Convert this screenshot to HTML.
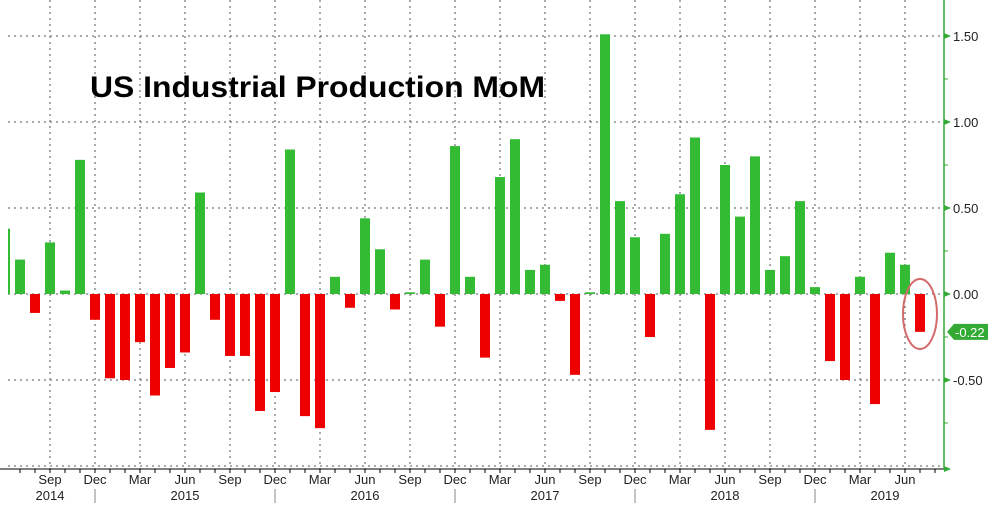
<!DOCTYPE html>
<html><head><meta charset="utf-8"><style>
body{margin:0;background:#fff;}
svg text{font-family:"Liberation Sans",Arial,sans-serif;}
</style></head><body>
<svg id="chart" width="997" height="503" xmlns="http://www.w3.org/2000/svg">
<rect width="997" height="503" fill="#fff"/>
<g id="grid"></g>
<g id="bars"></g>
<g id="axes"></g>
<text x="90" y="97" font-size="30" font-weight="bold" fill="#000" textLength="455" lengthAdjust="spacingAndGlyphs">US Industrial Production MoM</text>
<ellipse cx="920" cy="314" rx="17" ry="35" fill="none" stroke="#d46a6a" stroke-width="2"/>
</svg>
<script>
const startMonth = "2014-06";
const values = [0.38,0.20,-0.11,0.30,0.02,0.78,-0.15,-0.49,-0.50,-0.28,-0.59,-0.43,-0.34,0.59,-0.15,-0.36,-0.36,-0.68,-0.57,0.84,-0.71,-0.78,0.10,-0.08,0.44,0.26,-0.09,0.01,0.20,-0.19,0.86,0.10,-0.37,0.68,0.90,0.14,0.17,-0.04,-0.47,0.01,1.51,0.54,0.33,-0.25,0.35,0.58,0.91,-0.79,0.75,0.45,0.80,0.14,0.22,0.54,0.04,-0.39,-0.50,0.10,-0.64,0.24,0.17,-0.22];
const yTicks = [1.5,1.0,0.5,0.0,-0.5];
const yTickLabels = ["1.50","1.00","0.50","0.00","-0.50"];
const monthNames = ["Jan","Feb","Mar","Apr","May","Jun","Jul","Aug","Sep","Oct","Nov","Dec"];
const lastLabel = "-0.22";

const NS="http://www.w3.org/2000/svg";
const x0=5, dx=15, zeroY=294, pxPerUnit=172, left=8, right=944, bottom=469;
const xs=i=>x0+i*dx;
const ys=v=>zeroY-v*pxPerUnit;
function mk(tag,attrs,parent){const e=document.createElementNS(NS,tag);for(const k in attrs)e.setAttribute(k,attrs[k]);parent.appendChild(e);return e;}
const grid=document.getElementById('grid'),bars=document.getElementById('bars'),axes=document.getElementById('axes');
const sm=5, sy=2014;
[1.5,1.0,0.5,0,-0.5,-1.0].forEach(v=>{
  const l=mk('line',{x1:left,x2:right,y1:ys(v),y2:ys(v),stroke:'#555','stroke-width':1,'stroke-dasharray':'2,4'},grid);
  
  
});
for(let i=0;i<values.length+1;i++){
  const m=(sm+i)%12, yr=sy+Math.floor((sm+i)/12), x=xs(i);
  if(x<left)continue;
  mk('line',{x1:x,x2:x,y1:bottom,y2:bottom+4,stroke:'#000'},axes);
  if(m%3==2){
    const g=mk('line',{x1:x,x2:x,y1:0,y2:bottom,stroke:'#555','stroke-width':1,'stroke-dasharray':'2,4'},grid);
    
    
    const t=mk('text',{x:x,y:484,'text-anchor':'middle','font-size':13,fill:'#222'},axes);
    t.textContent=monthNames[m];
    
    
  }
  if(m==11){mk('line',{x1:x,x2:x,y1:bottom+20,y2:503,stroke:'#888'},axes);}
  if((yr==2014&&m==8)||(yr>2014&&yr<2019&&m==5)||(yr==2019&&m==4)){
    const t=mk('text',{x:(yr==2019?x-5:x),y:500,'text-anchor':'middle','font-size':13,fill:'#222'},axes);
    t.textContent=String(yr);
    
    
  }
}
values.forEach((v,i)=>{
  let x=xs(i)-5, w=10;
  if(x<left){w-= (left-x); x=left;}
  const y=v>=0?ys(v):zeroY, h=Math.max(Math.abs(v)*pxPerUnit,1);
  const r=mk('rect',{x:x,y:y,width:w,height:h,fill:v>=0?'#33bb33':'#ee0000'},bars);
  
  
});
mk('line',{x1:0,x2:right,y1:bottom,y2:bottom,stroke:'#000'},axes);
mk('line',{x1:right,x2:right,y1:0,y2:bottom,stroke:'#33aa33','stroke-width':1.5},axes);
[1.25,0.75,0.25,-0.25,-0.75].forEach(v=>mk('line',{x1:right,x2:right+4,y1:ys(v),y2:ys(v),stroke:'#33aa33'},axes));
mk('polygon',{points:`${right},${bottom-3} ${right+7},${bottom} ${right},${bottom+3}`,fill:'#33aa33'},axes);
yTicks.forEach((v,i)=>{
  const y=ys(v);
  mk('polygon',{points:`${right},${y-3} ${right+7},${y} ${right},${y+3}`,fill:'#33aa33'},axes);
  const t=mk('text',{x:right+9,y:y+5,'font-size':13,fill:'#222'},axes);
  t.textContent=yTickLabels[i];
  
  
});
const lv=values[values.length-1], ly=ys(lv);
const tag=mk('polygon',{points:`${right+3},${ly} ${right+10},${ly-8} ${right+44},${ly-8} ${right+44},${ly+8} ${right+10},${ly+8}`,fill:'#33aa33'},axes);


const lt=mk('text',{x:right+11,y:ly+5,'font-size':13,fill:'#fff'},axes);
lt.textContent=lastLabel;


</script>
</body></html>
